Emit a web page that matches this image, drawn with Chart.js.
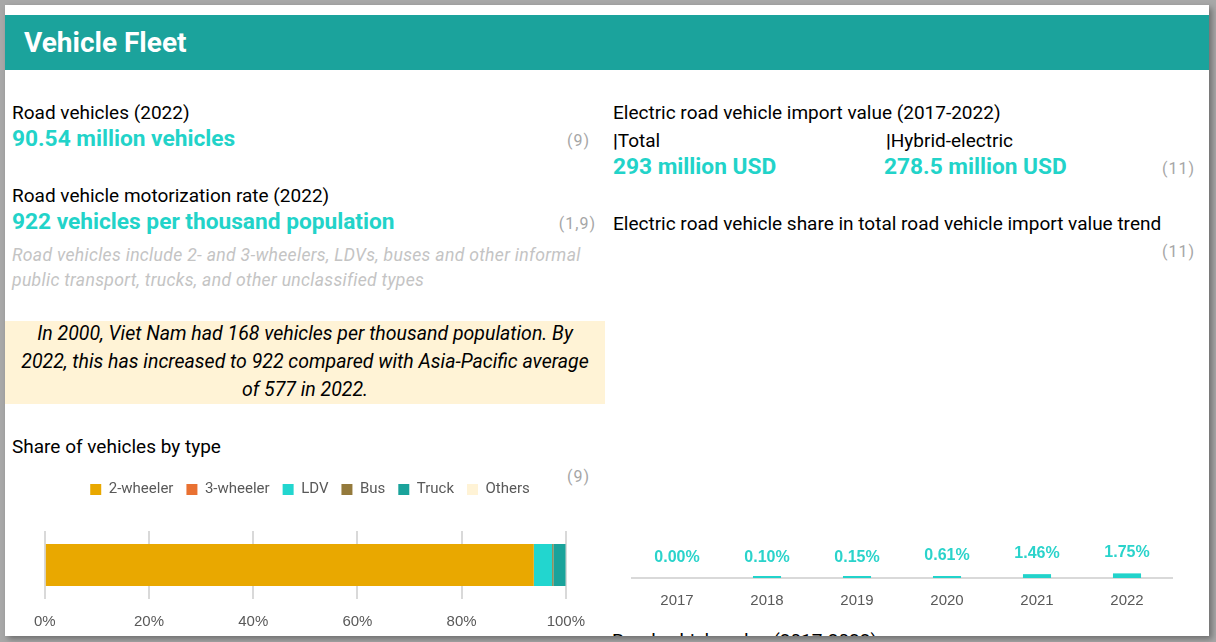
<!DOCTYPE html>
<html>
<head>
<meta charset="utf-8">
<script src="https://cdn.jsdelivr.net/npm/chart.js@4.4.1/dist/chart.umd.min.js"></script>
<style>
  body { margin: 0; width: 1216px; height: 642px; background: #a8a8a8; position: relative; overflow: hidden; font-family: Roboto, "Liberation Sans", sans-serif; }
  #card { position: absolute; left: 5px; top: 5px; width: 1204px; height: 631px; background: #fff; box-shadow: 3px 3px 6px rgba(0,0,0,0.35); overflow: hidden; }
  #header { position: absolute; left: 0; top: 10px; width: 1204px; height: 55px; background: #1ba39c; }
  #header span { position: absolute; left: 19px; top: 12px; line-height: 32px; font-size: 28px; font-weight: 700; color: #fff; }
  .t { position: absolute; white-space: nowrap; line-height: 24px; height: 24px; }
  .lbl { font-size: 19px; color: #000; }
  .big { font-size: 22.7px; font-weight: 700; color: #22d3c9; }
  .ref { font-size: 16px; color: #a6a6a6; text-align: right; width: 60px; letter-spacing: 1px; }
  .note { font-size: 17.6px; font-style: italic; color: #c4c4c4; letter-spacing: 0.3px; }
  #box { position: absolute; left: 0; top: 316px; width: 600px; height: 83px; background: #fff3d6; }
  #box div { position: absolute; left: 0; width: 600px; text-align: center; font-size: 19.5px; font-style: italic; line-height: 28px; color: #000; white-space: nowrap; }
  canvas { position: absolute; }
</style>
</head>
<body>
<div id="card">
  <div id="header"><span>Vehicle Fleet</span></div>

  <div class="t lbl" style="left:7px; top:96px;">Road vehicles (2022)</div>
  <div class="t big" style="left:7px; top:122px;">90.54 million vehicles</div>
  <div class="t ref" style="left:525px; top:124px;">(9)</div>

  <div class="t lbl" style="left:7px; top:179px;">Road vehicle motorization rate (2022)</div>
  <div class="t big" style="left:7px; top:205px;">922 vehicles per thousand population</div>
  <div class="t ref" style="left:531px; top:207px;">(1,9)</div>

  <div class="t note" style="left:7px; top:238px;">Road vehicles include 2- and 3-wheelers, LDVs, buses and other informal</div>
  <div class="t note" style="left:7px; top:263px;">public transport, trucks, and other unclassified types</div>

  <div id="box">
    <div style="top:-1px;">In 2000, Viet Nam had 168 vehicles per thousand population. By</div>
    <div style="top:27px;">2022, this has increased to 922 compared with Asia-Pacific average</div>
    <div style="top:55px;">of 577 in 2022.</div>
  </div>

  <div class="t lbl" style="left:7px; top:430px;">Share of vehicles by type</div>
  <div class="t ref" style="left:525px; top:460px;">(9)</div>

  <div class="t lbl" style="left:608px; top:96px;">Electric road vehicle import value (2017-2022)</div>
  <div class="t lbl" style="left:608px; top:124px;"><b>|</b>Total</div>
  <div class="t lbl" style="left:881px; top:124px;"><b>|</b>Hybrid-electric</div>
  <div class="t big" style="left:608px; top:150px;">293 million USD</div>
  <div class="t big" style="left:879px; top:150px;">278.5 million USD</div>
  <div class="t ref" style="left:1130px; top:152px;">(11)</div>

  <div class="t lbl" style="left:608px; top:207px;">Electric road vehicle share in total road vehicle import value trend</div>
  <div class="t ref" style="left:1130px; top:235px;">(11)</div>

  <div class="t lbl" style="left:607px; top:624px;">Road vehicle sales (2017-2022)</div>
</div>

<canvas id="shareChart" width="579" height="176" style="left:20px; top:469px;"></canvas>
<canvas id="importChart" width="580" height="354" style="left:612px; top:270px;"></canvas>

<script>
// Share of vehicles by type (%, 2022)
const vehicleTypes = ['2-wheeler', '3-wheeler', 'LDV', 'Bus', 'Truck', 'Others'];
const vehicleShares = [93.85, 0.02, 3.5, 0.25, 2.35, 0.03];
const typeColors = ['#e9a800', '#e97132', '#22d6cf', '#947a3c', '#1aa39b', '#fff3d6'];
const shareTicks = ['0%', '20%', '40%', '60%', '80%', '100%'];

// Electric road vehicle share in total import value (%)
const importYears = ['2017', '2018', '2019', '2020', '2021', '2022'];
const evImportShare = [0.00, 0.10, 0.15, 0.61, 1.46, 1.75];

const tickColor = '#595959';
const tealText = '#2ad3cb';

// stretch the legend box a little so the bar sits lower, and nudge it right
const legendGap = {
    id: 'legendGap',
    beforeInit(chart) {
        const fit = chart.legend.fit;
        chart.legend.fit = function () {
            fit.bind(chart.legend)();
            this.height += 24;
        };
    },
    afterLayout(chart) {
        chart.legend.left += 8;
        chart.legend.right += 8;
    }
};

new Chart(document.getElementById('shareChart').getContext('2d'), {
    type: 'bar',
    data: {
        labels: [''],
        datasets: vehicleTypes.map((name, i) => ({
            label: name,
            data: [vehicleShares[i]],
            backgroundColor: typeColors[i],
            borderWidth: 0,
            barPercentage: 0.62,
            categoryPercentage: 1
        }))
    },
    options: {
        indexAxis: 'y',
        responsive: false,
        animation: false,
        layout: { padding: { left: 15, right: 30, top: 0, bottom: 0 } },
        plugins: {
            tooltip: { enabled: false },
            legend: {
                position: 'top',
                labels: {
                    boxWidth: 11,
                    boxHeight: 11,
                    padding: 13,
                    color: tickColor,
                    font: { family: 'Roboto', size: 15 }
                }
            }
        },
        scales: {
            x: {
                stacked: true,
                min: 0,
                max: 100,
                grid: { color: '#d9d9d9', lineWidth: 2, drawTicks: false },
                border: { display: false },
                ticks: {
                    stepSize: 20,
                    padding: 14,
                    color: tickColor,
                    font: { family: 'Liberation Sans', size: 15 },
                    callback: (v, i) => shareTicks[i]
                }
            },
            y: { stacked: true, display: false }
        }
    },
    plugins: [legendGap]
});

// value labels above the import share bars
const barLabels = {
    id: 'barLabels',
    afterDatasetsDraw(chart) {
        const ctx = chart.ctx;
        const xs = chart.scales.x, ys = chart.scales.y;
        ctx.save();
        ctx.fillStyle = tealText;
        ctx.font = 'bold 16px "Liberation Sans"';
        ctx.textAlign = 'center';
        ctx.textBaseline = 'alphabetic';
        evImportShare.forEach((v, i) => {
            const x = xs.getPixelForValue(i);
            const y = ys.getPixelForValue(v) - 16;
            ctx.fillText(v.toFixed(2) + '%', x, y);
        });
        ctx.restore();
    }
};

new Chart(document.getElementById('importChart').getContext('2d'), {
    type: 'bar',
    data: {
        labels: importYears,
        datasets: [{
            label: 'EV share of import value',
            data: evImportShare.map(v => (v > 0 ? v : null)),
            backgroundColor: '#22d3cb',
            borderWidth: 0,
            barPercentage: 0.39,
            categoryPercentage: 0.8,
            minBarLength: 2
        }]
    },
    options: {
        responsive: false,
        animation: false,
        layout: { padding: { left: 20, right: 20, top: 44, bottom: 0 } },
        plugins: {
            legend: { display: false },
            tooltip: { enabled: false }
        },
        scales: {
            x: {
                grid: { display: false, drawTicks: false },
                border: { display: true, color: '#d9d9d9', width: 2 },
                ticks: {
                    padding: 14,
                    color: tickColor,
                    font: { family: 'Liberation Sans', size: 15 }
                }
            },
            y: { display: false, min: 0, max: 100 }
        }
    },
    plugins: [barLabels]
});
</script>
</body>
</html>
